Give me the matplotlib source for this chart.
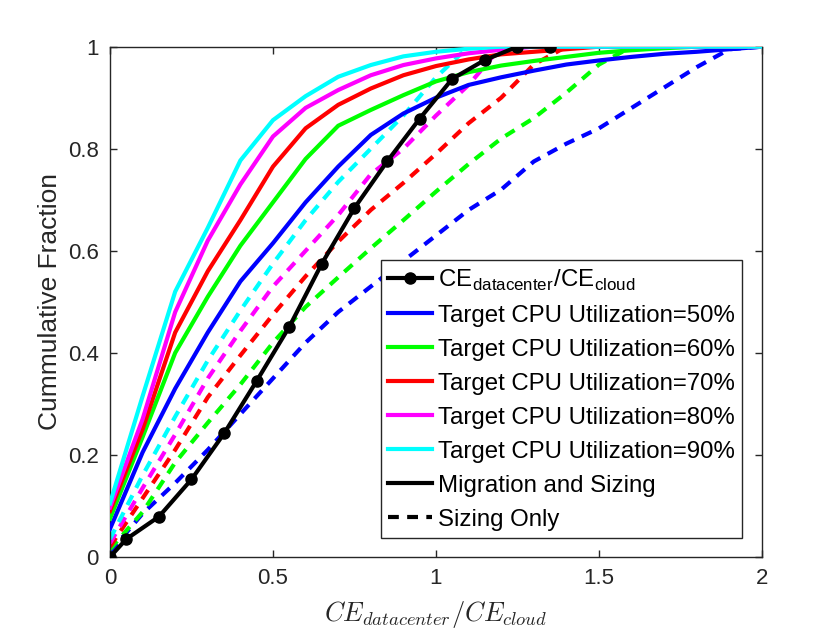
import matplotlib
matplotlib.use("Agg")
import matplotlib.pyplot as plt
import numpy as np

plt.rcParams['font.family'] = ['Liberation Sans', 'DejaVu Sans']
plt.rcParams['mathtext.fontset'] = 'cm'

# grid of ratio values for the CDF curves
x_grid = [0.0, 0.1, 0.2, 0.3, 0.4, 0.5, 0.6, 0.7, 0.8, 0.9, 1.0,
          1.1, 1.2, 1.3, 1.4, 1.5, 1.6, 1.7, 1.8, 1.9, 2.0]

# Migration and Sizing (solid)
ms_50 = [0.055, 0.205, 0.33, 0.44, 0.54, 0.615, 0.695, 0.765, 0.827, 0.869, 0.90,
         0.925, 0.94, 0.953, 0.965, 0.973, 0.98, 0.986, 0.99, 0.995, 1.0]
ms_60 = [0.075, 0.235, 0.40, 0.51, 0.61, 0.695, 0.78, 0.845, 0.876, 0.905, 0.932,
         0.95, 0.963, 0.972, 0.98, 0.988, 0.993, 0.997, 1.0, 1.0, 1.0]
ms_70 = [0.09, 0.25, 0.44, 0.56, 0.66, 0.765, 0.84, 0.886, 0.918, 0.944, 0.962,
         0.975, 0.985, 0.99, 0.995, 1.0, 1.0, 1.0, 1.0, 1.0, 1.0]
ms_80 = [0.097, 0.27, 0.48, 0.62, 0.73, 0.824, 0.88, 0.915, 0.944, 0.964, 0.977,
         0.987, 0.994, 1.0, 1.0, 1.0, 1.0, 1.0, 1.0, 1.0, 1.0]
ms_90 = [0.105, 0.315, 0.52, 0.645, 0.777, 0.856, 0.903, 0.941, 0.964, 0.981, 0.99,
         0.996, 1.0, 1.0, 1.0, 1.0, 1.0, 1.0, 1.0, 1.0, 1.0]

# Sizing Only (dashed)
so_50 = [0.01, 0.085, 0.145, 0.21, 0.28, 0.35, 0.42, 0.48, 0.53, 0.58, 0.63,
         0.68, 0.72, 0.775, 0.81, 0.84, 0.88, 0.92, 0.96, 0.995, 1.0]
so_60 = [0.015, 0.088, 0.185, 0.263, 0.338, 0.42, 0.49, 0.548, 0.605, 0.66, 0.716,
         0.77, 0.82, 0.86, 0.91, 0.965, 1.0, 1.0, 1.0, 1.0, 1.0]
so_70 = [0.02, 0.115, 0.21, 0.313, 0.395, 0.475, 0.55, 0.618, 0.68, 0.733, 0.79,
         0.85, 0.90, 0.965, 1.0, 1.0, 1.0, 1.0, 1.0, 1.0, 1.0]
so_80 = [0.027, 0.135, 0.24, 0.35, 0.443, 0.53, 0.60, 0.67, 0.75, 0.80, 0.865,
         0.925, 1.0, 1.0, 1.0, 1.0, 1.0, 1.0, 1.0, 1.0, 1.0]
so_90 = [0.035, 0.16, 0.275, 0.385, 0.483, 0.575, 0.66, 0.735, 0.80, 0.865, 0.94,
         1.0, 1.0, 1.0, 1.0, 1.0, 1.0, 1.0, 1.0, 1.0, 1.0]

# CE_datacenter / CE_cloud distribution (black with markers)
ce_x = [0.0, 0.05, 0.15, 0.25, 0.35, 0.45, 0.55, 0.65, 0.75, 0.85, 0.95, 1.05, 1.15, 1.25, 1.35]
ce_y = [0.0, 0.035, 0.079, 0.152, 0.242, 0.345, 0.451, 0.575, 0.684, 0.775, 0.859, 0.937, 0.974, 1.0, 1.0]

targets = ['50%', '60%', '70%', '80%', '90%']
colors = ['#0000ff', '#00ff00', '#ff0000', '#ff00ff', '#00ffff']
solid_series = [ms_50, ms_60, ms_70, ms_80, ms_90]
dashed_series = [so_50, so_60, so_70, so_80, so_90]

x_ticks = [0, 0.5, 1, 1.5, 2]
x_tick_labels = ['0', '0.5', '1', '1.5', '2']
y_ticks = [0, 0.2, 0.4, 0.6, 0.8, 1]
y_tick_labels = ['0', '0.2', '0.4', '0.6', '0.8', '1']

fig = plt.figure(figsize=(8.37, 6.29), dpi=100)
ax = fig.add_axes([0.1314, 0.1145, 0.779, 0.8113])

lw = 3.0
dash = (0, (2.6, 2.0))
for ys, c in zip(solid_series, colors):
    ax.plot(x_grid, ys, color=c, lw=lw, solid_joinstyle='miter', zorder=3)
for ys, c in zip(dashed_series, colors):
    ax.plot(x_grid, ys, color=c, lw=lw, linestyle=dash, zorder=2)
ce_line, = ax.plot(ce_x, ce_y, color='black', lw=lw, marker='o', markersize=8,
                   markerfacecolor='black', zorder=4)

ax.set_xlim(0, 2)
ax.set_ylim(0, 1)
ax.set_xticks(x_ticks)
ax.set_xticklabels(x_tick_labels)
ax.set_yticks(y_ticks)
ax.set_yticklabels(y_tick_labels)
ax.tick_params(direction='in', length=5, width=1, top=True, right=True,
               labelsize=16, colors='#262626', pad=8)
for sp in ax.spines.values():
    sp.set_linewidth(1.0)
    sp.set_color('#262626')

ax.set_ylabel('Cummulative Fraction', fontsize=19, color='#262626', labelpad=4)
ax.set_xlabel(r'$CE_{datacenter}/CE_{cloud}$', fontsize=19, color='#262626', labelpad=7)

# legend proxies
handles = [ce_line]
labels = [r'CE$_{\mathregular{datacenter}}$/CE$_{\mathregular{cloud}}$']
for t, c in zip(targets, colors):
    h, = ax.plot([], [], color=c, lw=lw)
    handles.append(h)
    labels.append('Target CPU Utilization=' + t)
h_ms, = ax.plot([], [], color='black', lw=lw)
h_so, = ax.plot([], [], color='black', lw=lw, linestyle=dash)
handles += [h_ms, h_so]
labels += ['Migration and Sizing', 'Sizing Only']

leg = ax.legend(handles, labels, loc='lower right', bbox_to_anchor=(0.969, 0.037),
                borderaxespad=0, fontsize=17.3, frameon=True, fancybox=False,
                edgecolor='#262626', framealpha=1, handlelength=1.85,
                handletextpad=0.22, labelspacing=0.5, borderpad=0.3)
leg.get_frame().set_linewidth(1.0)

fig.savefig('out.png', dpi=100)
